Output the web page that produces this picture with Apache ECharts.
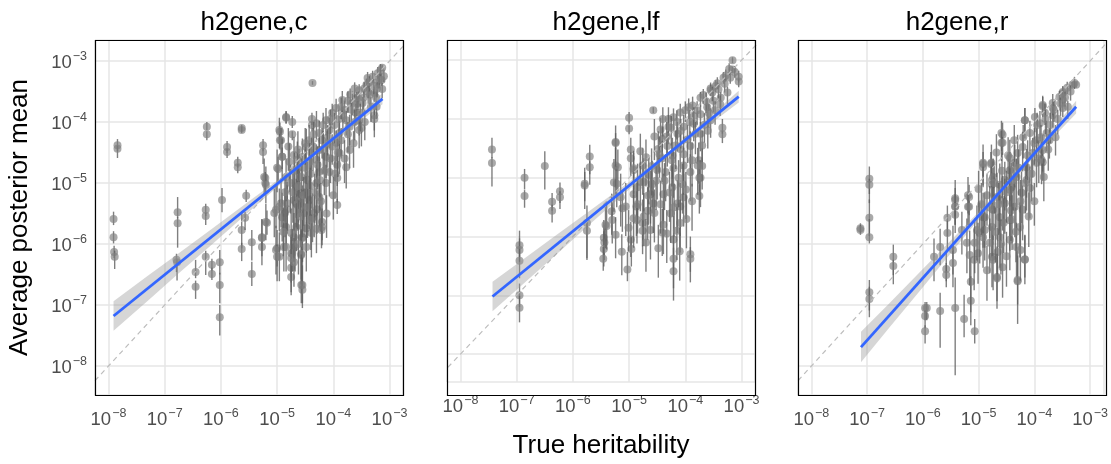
<!DOCTYPE html>
<html><head><meta charset="utf-8">
<script src="https://cdn.jsdelivr.net/npm/echarts@6/dist/echarts.min.js"></script>
<style>html,body{margin:0;padding:0;background:#fff}#c{width:1111px;height:464px}</style>
</head><body><div id="c"></div>
<script>
// ---- text ----
const panelTitles = ['h2gene,c', 'h2gene,lf', 'h2gene,r'];
const xAxisTitle = 'True heritability';
const yAxisTitle = 'Average posterior mean';
// ---- axis ranges (log10 exponents) ----
const xRangeExp = [-8.24, -2.76];
const yRangeExp = [-8.475, -2.656];
const diagExp = [-9, -2];
// ---- points: [log10 true h2, log10 mean, decades down, decades up] ----
const ptsC = [
[-7.91,-5.59,0.1,0.12],[-7.91,-5.89,0.1,0.1],[-7.90,-6.13,0.1,0.1],[-7.89,-6.21,0.2,0.1],
[-7.84,-4.38,0.1,0.1],[-7.84,-4.44,0.15,0.05],
[-6.77,-5.48,0.1,0.25],[-6.77,-5.66,0.4,0.1],[-6.79,-6.26,0.2,0.1],[-6.78,-6.30,0.3,0.05],
[-6.45,-6.46,0.1,0.2],[-6.45,-6.70,0.2,0.1],
[-6.27,-5.44,0.1,0.1],[-6.27,-5.54,0.15,0.05],[-6.27,-6.21,0.3,0.1],
[-6.25,-4.08,0.05,0.08],[-6.25,-4.20,0.1,0.05],
[-6.16,-6.34,0.1,0.1],[-6.16,-6.49,0.1,0.1],
[-6.02,-6.30,0.2,0.2],[-6.02,-6.67,0.3,0.2],[-6.02,-7.20,0.3,0.2],
[-5.98,-5.28,0.2,0.2],
[-5.89,-4.41,0.1,0.1],[-5.89,-4.49,0.1,0.05],
[-5.70,-4.67,0.08,0.1],[-5.70,-4.74,0.1,0.05],
[-5.63,-4.10,0.05,0.05],[-5.63,-4.13,0.05,0.05],
[-5.63,-5.77,0.3,0.3],[-5.63,-6.08,0.2,0.1],
[-5.55,-5.21,0.1,0.1],[-5.57,-5.57,0.2,0.1],
[-5.45,-5.97,0.3,0.2],[-5.45,-6.49,0.2,0.2],
[-5.27,-5.89,0.2,0.3],[-5.27,-6.05,0.3,0.1],
[-5.25,-4.38,0.1,0.1],[-5.25,-4.49,0.2,0.05],
[-5.21,-4.92,0.15,0.1],[-5.21,-5.00,0.15,0.05],
[-5.20,-5.64,0.3,0.3],[-5.18,-5.65,0.2,0.2],
[-4.95,-4.16,0.1,0.15],[-4.95,-4.30,0.15,0.05],
[-4.98,-4.77,0.2,0.2],[-4.91,-4.57,0.2,0.15],
[-4.84,-3.92,0.1,0.1],[-4.84,-3.93,0.1,0.1],
[-4.73,-4.00,0.1,0.1],[-4.73,-4.20,0.1,0.05],
[-4.37,-3.36,0.03,0.03],
[-4.38,-3.95,0.1,0.1],[-4.38,-4.05,0.1,0.05],
[-5.00,-6.07,0.3,0.3],[-5.00,-6.21,0.4,0.2],[-4.84,-5.72,0.3,0.3],[-4.75,-6.15,0.4,0.3],
[-4.75,-6.39,0.4,0.3],[-4.75,-6.54,0.3,0.3],[-4.55,-6.67,0.3,0.5],[-4.55,-6.75,0.3,0.4],
[-4.57,-6.18,0.4,0.4],[-4.55,-5.89,0.4,0.4],[-4.48,-5.74,0.4,0.4],[-4.37,-5.57,0.4,0.4],
[-4.20,-5.64,0.3,0.4],[-4.21,-5.77,0.3,0.3],[-4.84,-6.05,0.4,0.4],[-4.70,-5.89,0.4,0.4],
[-4.68,-6.05,0.4,0.4],[-4.66,-5.72,0.4,0.4],[-5.05,-5.49,0.4,0.4],[-5.02,-5.44,0.3,0.4],
[-4.93,-5.33,0.4,0.4],[-4.86,-5.49,0.4,0.4],[-4.82,-5.43,0.4,0.4],[-4.66,-5.33,0.4,0.4],
[-4.60,-5.16,0.4,0.4],[-4.52,-5.49,0.4,0.4],[-4.43,-5.28,0.4,0.4],[-4.34,-5.49,0.4,0.3],
[-4.29,-5.43,0.4,0.3],
[-3.93,-5.36,0.15,0.1],[-4.20,-5.72,0.3,0.3],[-4.39,-5.82,0.4,0.3],[-4.55,-5.90,0.4,0.3],
[-4.75,-5.82,0.4,0.4],[-4.73,-6.15,0.3,0.4],[-4.75,-6.23,0.4,0.3],[-4.57,-6.16,0.5,0.4],
[-4.57,-6.67,0.3,0.5],[-5.02,-6.10,0.4,0.4],[-4.96,-6.21,0.4,0.4],[-4.88,-6.05,0.4,0.4],
[-5.27,-5.90,0.3,0.3],[-4.91,-5.56,0.4,0.4],[-4.64,-5.36,0.4,0.4],[-4.43,-5.36,0.4,0.4],
[-3.13,-3.11,0.05,0.05],[-3.21,-3.20,0.1,0.1],[-3.14,-3.31,0.1,0.1],[-3.30,-3.26,0.1,0.1],
[-3.39,-3.28,0.1,0.1],[-3.41,-3.39,0.1,0.1],[-3.13,-3.46,0.15,0.1],[-3.27,-3.52,0.15,0.1],
[-3.54,-3.48,0.15,0.1],[-3.59,-3.61,0.15,0.1],[-3.48,-3.69,0.2,0.1],[-3.66,-3.69,0.2,0.15],
[-3.84,-3.64,0.2,0.15],[-3.80,-3.80,0.2,0.15],[-3.95,-3.77,0.2,0.15],[-4.02,-3.85,0.2,0.15],
[-3.77,-3.97,0.25,0.15],[-3.54,-3.97,0.25,0.15],[-3.27,-3.89,0.25,0.15],[-3.23,-3.75,0.2,0.1],
[-4.13,-3.97,0.25,0.2],[-4.07,-4.13,0.3,0.2],[-3.89,-4.18,0.3,0.2],[-3.71,-4.08,0.3,0.2],
[-3.54,-4.13,0.3,0.2],[-3.95,-4.34,0.3,0.2],[-4.20,-4.30,0.3,0.2],[-4.25,-4.46,0.35,0.2],
[-4.30,-4.62,0.4,0.25],[-4.13,-4.57,0.35,0.25],[-3.89,-4.51,0.35,0.2],[-3.71,-4.46,0.3,0.2],
[-3.77,-4.74,0.35,0.2],[-3.93,-4.70,0.35,0.2],[-4.07,-4.82,0.4,0.25],[-4.25,-4.82,0.4,0.25],
[-4.43,-4.30,0.3,0.25],[-4.39,-4.51,0.4,0.25],[-4.48,-4.41,0.4,0.3],[-4.55,-4.57,0.4,0.3],
[-4.61,-4.74,0.5,0.3],[-4.57,-4.90,0.5,0.3],[-4.46,-4.95,0.5,0.3],[-4.30,-5.00,0.5,0.3],
[-4.13,-5.00,0.45,0.3],[-3.93,-4.92,0.4,0.25],[-4.66,-5.07,0.5,0.3],[-4.48,-5.16,0.5,0.35],
[-4.25,-5.23,0.5,0.3],[-4.70,-5.28,0.5,0.35],[-4.55,-5.39,0.5,0.35],[-4.82,-5.33,0.45,0.35],
[-4.96,-5.39,0.4,0.3],[-4.84,-4.90,0.4,0.3],[-4.70,-4.54,0.4,0.3],[-4.30,-4.02,0.3,0.2],
[-4.25,-4.18,0.3,0.2],[-4.96,-4.13,0.3,0.2],[-4.93,-4.30,0.3,0.2],[-4.91,-4.57,0.4,0.3],
[-5.00,-4.75,0.4,0.3],[-5.23,-4.90,0.3,0.3],[-5.20,-5.03,0.3,0.3],[-3.27,-3.95,0.3,0.15],
[-3.35,-3.55,0.2,0.1],[-3.45,-3.45,0.15,0.1],[-3.60,-3.85,0.2,0.15],[-3.70,-3.55,0.15,0.1],
[-3.90,-3.95,0.25,0.15],[-4.10,-4.25,0.3,0.2],[-3.20,-3.35,0.1,0.1],[-3.10,-3.25,0.1,0.1],
[-3.50,-4.10,0.3,0.1],
[-4.80,-4.40,0.4,0.3],[-4.78,-4.65,0.5,0.3],[-4.76,-5.00,0.5,0.3],[-4.72,-5.15,0.5,0.3],
[-4.69,-4.80,0.5,0.3],[-4.64,-4.62,0.4,0.3],[-4.62,-5.05,0.6,0.3],[-4.58,-5.55,0.5,0.4],
[-4.53,-5.20,0.5,0.3],[-4.50,-4.75,0.5,0.3],[-4.46,-5.40,0.5,0.4],[-4.41,-5.05,0.5,0.3],
[-4.40,-4.85,0.5,0.3],[-4.36,-4.40,0.4,0.3],[-4.33,-5.15,0.5,0.3],[-4.28,-4.70,0.4,0.3],
[-4.24,-4.95,0.5,0.3],[-4.22,-5.30,0.5,0.3],[-4.18,-4.45,0.4,0.3],[-4.16,-4.80,0.4,0.3],
[-4.11,-4.35,0.4,0.2],[-4.05,-4.60,0.4,0.3],[-4.02,-4.40,0.3,0.2],[-3.98,-4.05,0.3,0.2],
[-3.97,-4.85,0.4,0.3],[-3.92,-4.50,0.4,0.3],[-3.86,-4.30,0.3,0.2],[-3.83,-3.90,0.25,0.15],
[-3.80,-4.60,0.4,0.3],[-3.74,-4.20,0.3,0.2],[-3.68,-3.80,0.2,0.15],[-3.64,-4.35,0.4,0.2],
[-3.62,-4.00,0.3,0.2],[-3.58,-3.70,0.2,0.15],[-3.52,-3.85,0.3,0.15],[-3.46,-3.60,0.2,0.1],
[-3.44,-4.00,0.3,0.2],[-3.38,-3.50,0.2,0.1],[-3.33,-3.75,0.25,0.15],[-3.28,-3.40,0.15,0.1],
[-3.24,-3.60,0.2,0.1],[-3.18,-3.30,0.15,0.1],[-3.16,-3.15,0.1,0.1],[-3.22,-3.45,0.15,0.1],
[-3.36,-3.35,0.15,0.1],[-3.56,-3.60,0.2,0.1],[-3.62,-3.45,0.15,0.1],[-3.74,-3.65,0.2,0.15],
[-3.86,-3.75,0.2,0.15],[-4.05,-3.95,0.25,0.15],[-4.18,-4.05,0.3,0.2],[-4.35,-4.20,0.3,0.2],
[-4.50,-4.35,0.35,0.25],[-4.63,-4.45,0.4,0.3],[-4.86,-5.15,0.5,0.3],[-4.89,-5.80,0.4,0.4],
[-4.70,-6.30,0.4,0.4],[-4.62,-6.00,0.5,0.4],[-4.48,-6.05,0.4,0.4],[-4.40,-5.60,0.5,0.4],
[-4.30,-5.75,0.4,0.3],[-4.12,-5.50,0.4,0.3],[-4.00,-5.20,0.4,0.3],[-4.42,-4.65,0.45,0.3]
];
const ptsLF = [
[-7.44,-4.52,0.15,0.2],[-7.44,-4.75,0.4,0.1],
[-6.86,-5.00,0.2,0.15],[-6.86,-5.31,0.2,0.1],
[-6.50,-4.80,0.4,0.25],
[-6.37,-5.41,0.15,0.15],[-6.37,-5.56,0.2,0.1],
[-6.23,-5.23,0.2,0.15],[-6.23,-5.33,0.2,0.1],
[-6.95,-6.15,0.2,0.25],[-6.95,-6.23,0.2,0.2],[-6.95,-6.41,0.3,0.2],
[-6.95,-7.00,0.2,0.2],[-6.95,-7.21,0.25,0.2],
[-5.79,-5.13,0.4,0.3],[-5.79,-5.10,0.3,0.2],
[-5.75,-5.77,0.6,0.3],[-5.75,-5.90,0.5,0.2],
[-5.70,-4.64,0.3,0.2],[-5.70,-4.82,0.3,0.1],
[-5.45,-6.02,0.3,0.3],[-5.44,-6.10,0.3,0.3],[-5.45,-6.21,0.3,0.3],[-5.46,-6.38,0.2,0.2],
[-5.40,-5.82,0.4,0.4],[-5.31,-5.57,0.4,0.3],[-5.30,-5.72,0.4,0.3],
[-5.24,-4.39,0.35,0.15],
[-5.20,-4.82,0.4,0.3],[-5.22,-5.10,0.4,0.3],
[-5.12,-5.52,0.4,0.3],[-5.13,-6.26,0.4,0.3],[-5.03,-6.56,0.2,0.3],
[-5.00,-3.98,0.1,0.1],[-5.00,-4.16,0.1,0.05],
[-4.97,-4.52,0.3,0.2],[-4.97,-4.67,0.3,0.1],
[-4.97,-6.05,0.3,0.3],[-4.96,-6.21,0.3,0.2],
[-4.92,-5.28,0.5,0.4],[-4.87,-5.49,0.5,0.4],[-4.86,-5.72,0.4,0.3],
[-4.76,-5.77,0.4,0.4],[-4.76,-5.90,0.4,0.3],
[-4.57,-3.85,0.05,0.05],
[-4.92,-4.87,0.4,0.3],[-4.80,-5.07,0.5,0.3],[-4.62,-5.28,0.5,0.4],[-4.67,-5.56,0.5,0.4],
[-4.62,-5.89,0.5,0.4],[-4.41,-5.93,0.4,0.4],[-4.21,-6.05,0.5,0.4],[-4.21,-6.59,0.5,0.4],
[-4.21,-6.38,0.5,0.4],[-4.09,-5.49,0.5,0.4],[-4.03,-5.33,0.5,0.4],
[-3.91,-6.30,0.3,0.3],[-3.91,-6.38,0.4,0.2],
[-3.75,-5.00,0.3,0.3],[-3.75,-5.31,0.3,0.2],[-3.76,-4.70,0.4,0.3],
[-3.34,-4.15,0.1,0.15],[-3.34,-4.26,0.15,0.05],
[-3.16,-3.00,0.05,0.05],[-3.16,-3.16,0.05,0.05],[-3.05,-3.28,0.1,0.1],[-3.05,-3.36,0.1,0.05],
[-3.32,-3.30,0.1,0.1],[-3.46,-3.44,0.1,0.1],[-3.55,-3.48,0.1,0.1],
[-3.28,-3.26,0.1,0.1],[-3.43,-3.39,0.1,0.1],[-3.55,-3.51,0.1,0.1],[-3.68,-3.59,0.15,0.1],
[-3.73,-3.64,0.15,0.1],[-3.87,-3.77,0.2,0.15],[-3.94,-3.80,0.2,0.15],[-4.09,-3.89,0.2,0.15],
[-4.21,-3.97,0.25,0.15],[-4.30,-4.00,0.3,0.2],[-4.30,-4.13,0.3,0.2],[-4.44,-4.18,0.3,0.2],
[-4.41,-4.34,0.3,0.2],[-4.32,-4.46,0.35,0.25],[-4.14,-4.25,0.3,0.2],[-4.03,-4.13,0.3,0.2],
[-3.85,-4.08,0.3,0.2],[-3.73,-3.92,0.25,0.15],[-3.61,-3.80,0.2,0.15],[-3.50,-3.69,0.2,0.15],
[-3.37,-3.64,0.2,0.1],[-3.55,-4.02,0.3,0.2],[-3.73,-4.25,0.3,0.2],[-3.91,-4.46,0.4,0.25],
[-4.09,-4.51,0.4,0.25],[-4.23,-4.62,0.4,0.3],[-4.41,-4.67,0.4,0.3],[-4.48,-4.51,0.4,0.3],
[-4.50,-4.87,0.5,0.3],[-4.35,-4.90,0.5,0.3],[-4.21,-4.84,0.5,0.3],[-4.03,-4.79,0.5,0.3],
[-3.91,-4.90,0.5,0.3],[-3.78,-4.79,0.5,0.3],[-3.73,-5.00,0.5,0.3],[-4.05,-5.11,0.5,0.35],
[-4.23,-5.16,0.5,0.35],[-4.39,-5.28,0.5,0.35],[-4.14,-5.44,0.5,0.4],[-4.26,-5.61,0.5,0.4],
[-4.39,-5.80,0.5,0.4],[-4.09,-5.77,0.5,0.4],[-4.57,-5.44,0.5,0.4],[-4.74,-5.66,0.5,0.4],
[-4.92,-5.69,0.5,0.4],[-4.85,-5.16,0.5,0.4],[-4.74,-5.07,0.5,0.4],[-4.59,-5.11,0.5,0.4],
[-5.06,-5.49,0.5,0.4],[-5.15,-5.33,0.5,0.4],[-5.27,-5.08,0.5,0.4],[-4.92,-4.84,0.5,0.3],
[-5.24,-4.79,0.5,0.3],[-5.24,-4.41,0.4,0.3],[-4.65,-4.95,0.5,0.3],[-4.76,-4.79,0.5,0.3],
[-5.42,-5.80,0.4,0.3],[-5.24,-5.97,0.4,0.3],[-5.01,-5.85,0.4,0.3],
[-4.70,-4.65,0.5,0.3],[-4.66,-5.30,0.5,0.4],[-4.60,-4.80,0.5,0.3],[-4.55,-5.60,0.5,0.4],
[-4.52,-5.05,0.5,0.3],[-4.46,-4.60,0.4,0.3],[-4.44,-5.45,0.5,0.4],[-4.37,-5.05,0.5,0.3],
[-4.33,-4.30,0.35,0.25],[-4.28,-5.25,0.5,0.35],[-4.24,-4.70,0.45,0.3],[-4.20,-5.50,0.5,0.4],
[-4.17,-4.45,0.4,0.25],[-4.12,-5.00,0.5,0.3],[-4.08,-4.20,0.3,0.2],[-4.03,-4.60,0.45,0.3],
[-3.99,-5.20,0.5,0.3],[-3.96,-4.35,0.4,0.25],[-3.92,-4.05,0.3,0.2],[-3.88,-4.70,0.45,0.3],
[-3.82,-4.25,0.35,0.2],[-3.79,-3.85,0.25,0.15],[-3.70,-4.45,0.4,0.25],[-3.66,-4.10,0.3,0.2],
[-3.63,-3.70,0.2,0.15],[-3.58,-3.90,0.25,0.15],[-3.52,-3.55,0.15,0.1],[-3.47,-3.85,0.25,0.15],
[-3.41,-3.50,0.15,0.1],[-3.38,-3.75,0.2,0.15],[-3.30,-3.40,0.15,0.1],[-3.25,-3.55,0.2,0.1],
[-3.20,-3.30,0.1,0.1],[-3.12,-3.20,0.1,0.1],[-3.22,-3.15,0.1,0.1],[-3.60,-4.20,0.3,0.2],
[-3.85,-3.95,0.25,0.15],[-4.00,-3.85,0.2,0.15],[-4.15,-4.05,0.3,0.2],[-4.25,-4.15,0.3,0.2],
[-4.40,-4.00,0.3,0.2],[-4.55,-4.30,0.4,0.3],[-4.80,-4.55,0.45,0.3],[-4.85,-5.45,0.5,0.4],
[-4.70,-6.10,0.5,0.4],[-4.48,-6.20,0.5,0.4],[-4.33,-5.95,0.5,0.4],[-4.15,-5.90,0.5,0.4],
[-4.10,-6.25,0.5,0.4],[-3.98,-5.70,0.5,0.4],[-3.88,-5.40,0.5,0.3],[-3.70,-4.80,0.4,0.3]
];
const ptsR = [
[-7.12,-5.74,0.08,0.08],[-7.12,-5.77,0.08,0.08],
[-6.96,-4.93,0.25,0.2],[-6.96,-5.03,0.3,0.1],
[-6.96,-5.57,0.3,0.3],[-6.96,-5.89,0.1,0.3],
[-6.96,-6.79,0.3,0.2],[-6.96,-6.90,0.3,0.2],
[-6.53,-6.21,0.3,0.2],[-6.53,-6.36,0.3,0.1],
[-5.96,-7.05,0.2,0.1],[-5.96,-7.18,0.2,0.1],[-5.96,-7.43,0.2,0.1],[-5.93,-7.05,0.2,0.1],
[-5.69,-7.10,0.6,0.3],
[-5.42,-7.05,1.1,0.5],
[-5.26,-7.23,0.3,0.4],[-5.07,-7.43,0.2,0.2],[-5.14,-6.93,0.4,0.4],
[-5.80,-6.21,0.4,0.3],[-5.69,-6.05,0.3,0.3],[-5.58,-6.41,0.2,0.3],[-5.58,-6.51,0.2,0.2],
[-5.56,-5.57,0.3,0.2],[-5.56,-5.82,0.3,0.2],
[-5.46,-6.10,0.4,0.4],[-5.46,-6.31,0.4,0.3],
[-5.42,-5.28,0.3,0.2],[-5.42,-5.38,0.3,0.2],[-5.42,-5.52,0.3,0.2],
[-5.30,-5.77,0.4,0.3],
[-5.17,-5.23,0.3,0.2],[-5.17,-5.39,0.3,0.1],
[-5.21,-5.98,0.5,0.4],[-5.14,-6.62,0.5,0.4],[-5.08,-6.26,0.5,0.5],[-5.01,-6.15,0.5,0.5],[-4.98,-5.82,0.5,0.5],
[-4.92,-4.69,0.2,0.2],[-4.92,-4.74,0.3,0.1],
[-4.78,-4.69,0.2,0.2],
[-4.76,-4.95,0.4,0.3],[-4.76,-5.03,0.4,0.2],
[-4.89,-5.56,0.5,0.4],[-4.89,-5.77,0.5,0.3],
[-4.76,-6.21,0.5,0.5],[-4.67,-6.54,0.4,0.5],
[-4.57,-4.21,0.2,0.2],[-4.57,-4.34,0.2,0.1],
[-4.57,-5.28,0.5,0.4],[-4.41,-5.07,0.5,0.4],
[-4.30,-6.61,0.7,0.5],
[-4.17,-3.97,0.2,0.2],[-4.17,-6.25,0.3,0.4],
[-3.85,-3.74,0.15,0.15],[-3.67,-3.77,0.15,0.1],[-3.67,-3.89,0.2,0.1],
[-3.49,-3.53,0.1,0.1],[-3.49,-3.64,0.1,0.1],[-3.49,-3.77,0.15,0.1],
[-3.32,-3.39,0.05,0.05],[-3.25,-3.39,0.05,0.05],[-3.41,-3.44,0.1,0.1],
[-3.85,-4.66,0.3,0.2],
[-3.28,-3.36,0.1,0.1],[-3.49,-3.51,0.1,0.1],[-3.55,-3.59,0.15,0.1],[-3.67,-3.69,0.2,0.15],
[-3.85,-3.72,0.2,0.15],[-3.81,-3.85,0.2,0.15],[-3.99,-3.92,0.25,0.15],[-3.90,-4.02,0.25,0.2],
[-4.17,-3.97,0.3,0.2],[-4.08,-4.18,0.3,0.2],[-3.96,-4.30,0.3,0.2],[-3.78,-4.18,0.3,0.2],
[-3.73,-4.30,0.3,0.2],[-3.85,-4.46,0.35,0.25],[-4.03,-4.51,0.4,0.25],[-4.21,-4.41,0.4,0.25],
[-4.30,-4.51,0.4,0.3],[-4.35,-4.67,0.4,0.3],[-4.14,-4.74,0.5,0.3],[-3.96,-4.67,0.4,0.3],
[-3.87,-4.62,0.4,0.3],[-4.44,-4.79,0.5,0.3],[-4.32,-4.90,0.5,0.3],[-4.14,-4.95,0.5,0.3],
[-4.53,-4.95,0.5,0.3],[-4.62,-5.03,0.5,0.35],[-4.44,-5.11,0.5,0.35],[-4.23,-5.16,0.5,0.35],
[-4.08,-5.08,0.5,0.35],[-4.67,-5.23,0.5,0.4],[-4.53,-5.33,0.5,0.4],[-4.35,-5.39,0.5,0.4],
[-4.21,-5.44,0.5,0.4],[-4.74,-5.44,0.5,0.4],[-4.62,-5.56,0.5,0.4],[-4.44,-5.61,0.5,0.4],
[-4.26,-5.72,0.5,0.4],[-4.92,-5.56,0.5,0.4],[-4.76,-5.72,0.5,0.4],[-4.62,-5.89,0.5,0.4],
[-4.44,-5.93,0.5,0.4],[-4.32,-6.05,0.5,0.4],[-4.80,-5.98,0.5,0.4],[-4.92,-5.89,0.5,0.4],
[-5.03,-5.77,0.5,0.4],[-5.07,-5.98,0.5,0.4],[-5.16,-6.18,0.5,0.4],[-4.74,-6.26,0.5,0.4],
[-4.66,-6.13,0.5,0.4],[-4.57,-6.38,0.5,0.4],[-4.85,-6.43,0.5,0.4],[-4.67,-6.56,0.5,0.4],
[-4.30,-6.59,0.4,0.4],[-4.17,-6.26,0.4,0.4],[-5.42,-5.25,0.3,0.3],[-5.42,-5.39,0.3,0.2],
[-5.19,-5.20,0.3,0.3],[-5.19,-5.39,0.3,0.2],[-4.92,-4.67,0.4,0.3],[-4.77,-4.67,0.4,0.3],
[-4.74,-4.90,0.4,0.3],[-4.59,-4.18,0.3,0.2],[-4.59,-4.34,0.3,0.2],[-4.44,-4.59,0.4,0.3],
[-4.85,-5.20,0.5,0.35],[-4.80,-5.40,0.5,0.35],[-4.72,-5.00,0.5,0.3],[-4.70,-5.80,0.5,0.4],
[-4.64,-5.35,0.5,0.35],[-4.58,-4.80,0.45,0.3],[-4.55,-5.65,0.5,0.4],[-4.50,-5.15,0.5,0.35],
[-4.47,-4.55,0.4,0.3],[-4.42,-5.45,0.5,0.4],[-4.38,-4.95,0.5,0.3],[-4.33,-5.80,0.5,0.4],
[-4.28,-4.75,0.45,0.3],[-4.25,-5.30,0.5,0.35],[-4.20,-4.25,0.35,0.2],[-4.16,-5.00,0.5,0.3],
[-4.12,-4.55,0.4,0.25],[-4.10,-5.55,0.5,0.4],[-4.05,-4.85,0.45,0.3],[-4.00,-4.35,0.35,0.25],
[-3.95,-4.05,0.3,0.2],[-3.92,-4.60,0.4,0.3],[-3.88,-4.25,0.35,0.2],[-3.83,-4.90,0.4,0.3],
[-3.80,-3.95,0.25,0.15],[-3.75,-4.45,0.35,0.25],[-3.71,-4.05,0.3,0.2],[-3.65,-3.80,0.2,0.15],
[-3.62,-4.25,0.3,0.2],[-3.58,-3.95,0.25,0.15],[-3.53,-3.70,0.2,0.1],[-3.45,-3.60,0.15,0.1],
[-3.40,-3.75,0.2,0.1],[-3.35,-3.50,0.15,0.1],[-4.60,-6.00,0.5,0.4],[-4.50,-6.20,0.5,0.4],
[-4.40,-5.60,0.5,0.4],[-4.25,-6.10,0.5,0.4],[-4.00,-5.30,0.4,0.3],[-4.95,-5.35,0.5,0.35],
[-5.00,-5.10,0.4,0.3],[-4.68,-4.50,0.4,0.3],[-4.36,-4.30,0.35,0.25]
];
// ---- fitted line ends and confidence band [x, low, high] (log10) ----
const fitC = [[-7.91,-7.18],[-3.125,-3.62]];
const fitLF = [[-7.43,-7.02],[-3.05,-3.62]];
const fitR = [[-7.11,-7.69],[-3.25,-3.75]];
const bandC = [[-7.91,-7.42,-6.94],[-7.3,-6.93,-6.52],[-6.75,-6.48,-6.15],[-6.2,-6.04,-5.78],[-5.5,-5.47,-5.30],[-5.0,-5.07,-4.96],[-4.4,-4.60,-4.53],[-3.8,-4.18,-4.07],[-3.125,-3.71,-3.53]];
const bandLF = [[-7.43,-7.27,-6.77],[-6.9,-6.82,-6.40],[-6.3,-6.31,-5.98],[-5.7,-5.79,-5.56],[-5.0,-5.20,-5.07],[-4.3,-4.63,-4.56],[-3.7,-4.19,-4.07],[-3.05,-3.72,-3.52]];
const bandR = [[-7.11,-7.94,-7.44],[-6.6,-7.37,-6.97],[-6.0,-6.71,-6.41],[-5.4,-6.04,-5.85],[-4.9,-5.49,-5.38],[-4.4,-4.96,-4.89],[-3.8,-4.38,-4.25],[-3.25,-3.86,-3.65]];

const P = v => Math.pow(10, v);
const panels = [
  {pts: ptsC, fit: fitC, band: bandC},
  {pts: ptsLF, fit: fitLF, band: bandLF},
  {pts: ptsR, fit: fitR, band: bandR}
];
const FONT = "'Liberation Sans', Arial, Helvetica, sans-serif";
const gridLeft = [95, 447, 798], gridTop = 40, gridW = 308, gridH = 355;

const chart = echarts.init(document.getElementById('c'), null, {renderer: 'canvas'});
const labelFmt = v => {
  const e = Math.log10(v), r = Math.round(e);
  if (Math.abs(e - r) > 1e-6) return '';
  return '{b|10}{s|' + (r < 0 ? '\u2212' + (-r) : r) + '}';
};
const rich = {
  b: {fontSize: 18.5, color: '#4d4d4d', fontFamily: FONT, verticalAlign: 'bottom'},
  s: {fontSize: 12.5, color: '#4d4d4d', fontFamily: FONT, verticalAlign: 'bottom', padding: [0, 0, 9, 1]}
};
const grids = [], xAxes = [], yAxes = [], series = [], titles = [], graphics = [];
panels.forEach((pn, i) => {
  grids.push({left: gridLeft[i], top: gridTop, width: gridW, height: gridH, show: true, backgroundColor: '#fff', borderWidth: 0});
  xAxes.push({
    type: 'log', logBase: 10, gridIndex: i, min: P(xRangeExp[0]), max: P(xRangeExp[1]),
    axisLine: {show: false}, axisTick: {show: false},
    splitLine: {show: true, lineStyle: {color: '#e6e6e6', width: 1.5}},
    minorSplitLine: {show: false},
    axisLabel: {formatter: labelFmt, rich: rich, margin: 12, showMinLabel: false, showMaxLabel: false},
    name: i === 1 ? xAxisTitle : '', nameLocation: 'middle', nameGap: 51,
    nameTextStyle: {fontSize: 26, color: '#000', fontFamily: FONT}
  });
  yAxes.push({
    type: 'log', logBase: 10, gridIndex: i, min: P(yRangeExp[0]), max: P(yRangeExp[1]),
    axisLine: {show: false}, axisTick: {show: false},
    splitLine: {show: true, lineStyle: {color: '#e6e6e6', width: 1.5}},
    axisLabel: {show: i === 0, formatter: labelFmt, rich: rich, margin: 8, showMinLabel: false, showMaxLabel: false},
    name: i === 0 ? yAxisTitle : '', nameLocation: 'middle', nameGap: 62,
    nameTextStyle: {fontSize: 26, color: '#000', fontFamily: FONT}
  });
  titles.push({text: panelTitles[i], left: gridLeft[i] + gridW / 2, top: 5, textAlign: 'center',
    textStyle: {fontSize: 26, fontWeight: 'normal', color: '#000', fontFamily: FONT}});
  // points with error bars
  series.push({
    type: 'custom', xAxisIndex: i, yAxisIndex: i, clip: true, z: 2,
    data: pn.pts.map(p => [P(p[0]), P(p[1]), P(p[1] - p[2]), P(p[1] + p[3])]),
    encode: {x: 0, y: [1, 2, 3]},
    renderItem: (params, api) => {
      const x = api.value(0), y = api.value(1);
      const c = api.coord([x, y]), a = api.coord([x, api.value(2)]), b = api.coord([x, api.value(3)]);
      return {type: 'group', children: [
        {type: 'line', shape: {x1: a[0], y1: a[1], x2: b[0], y2: b[1]}, style: {stroke: 'rgba(95,95,95,0.8)', lineWidth: 1.4}},
        {type: 'circle', shape: {cx: c[0], cy: c[1], r: 4}, style: {fill: 'rgba(128,128,128,0.68)'}}
      ]};
    }
  });
  // diagonal y = x
  series.push({
    type: 'line', xAxisIndex: i, yAxisIndex: i, clip: true, z: 3, symbol: 'none', silent: true,
    data: diagExp.map(v => [P(v), P(v)]),
    lineStyle: {color: '#bdbdbd', width: 1.2, type: [5, 4]}
  });
  // confidence band
  const bandData = pn.band.map(r => [P(r[0]), P(r[1]), P(r[2])]);
  series.push({
    type: 'custom', xAxisIndex: i, yAxisIndex: i, clip: true, z: 4, silent: true,
    data: bandData, encode: {x: 0, y: [1, 2]},
    renderItem: (params, api) => {
      if (params.dataIndex !== 0) return null;
      const up = bandData.map(r => api.coord([r[0], r[2]]));
      const lo = bandData.map(r => api.coord([r[0], r[1]])).reverse();
      return {type: 'polygon', shape: {points: up.concat(lo)}, style: {fill: 'rgba(153,153,153,0.4)'}};
    }
  });
  // fitted line
  series.push({
    type: 'line', xAxisIndex: i, yAxisIndex: i, clip: true, z: 5, symbol: 'none', silent: true,
    data: pn.fit.map(p => [P(p[0]), P(p[1])]),
    lineStyle: {color: '#3366FF', width: 2.8}
  });
  graphics.push({type: 'rect', z: 100, silent: true,
    shape: {x: gridLeft[i] + 0.5, y: gridTop + 0.5, width: gridW, height: gridH},
    style: {fill: 'none', stroke: '#000', lineWidth: 1.2}});
});
chart.setOption({
  animation: false, backgroundColor: '#fff',
  title: titles, grid: grids, xAxis: xAxes, yAxis: yAxes, series: series, graphic: graphics
});
</script></body></html>
